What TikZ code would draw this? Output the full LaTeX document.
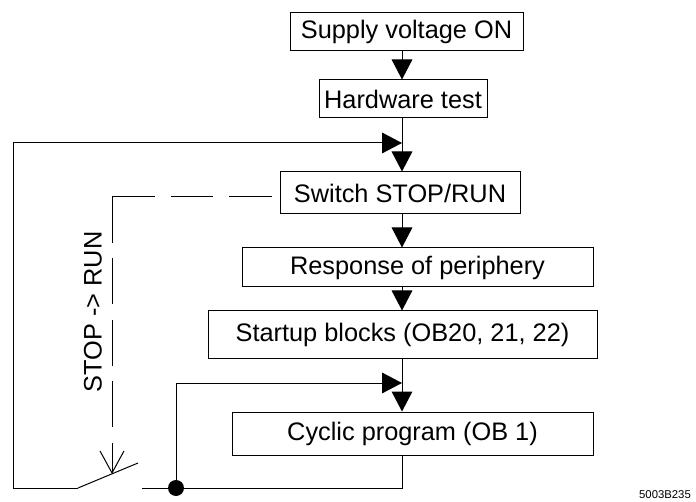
\documentclass[tikz,border=0pt]{standalone}
\usepackage{fontspec}
\setmainfont{Liberation Sans}
\usepackage{tikz}
\usetikzlibrary{arrows.meta}

\tikzset{
  box/.style={draw, line width=0.75pt, inner sep=0pt, font=\fontsize{19}{22}\selectfont},
  flow/.style={line width=0.75pt, -{Triangle[length=15pt,width=15.5pt]}},
  wire/.style={line width=0.75pt},
  dot/.style={circle, fill, inner sep=0pt, minimum size=12pt}
}

\begin{document}
\begin{tikzpicture}[x=0.75pt,y=0.75pt,yscale=-1,xscale=1]
        \useasboundingbox (0,0) rectangle (696,502);
        \coordinate (ax) at (402,0);

        % boxes
        \node[box, minimum width=174.75pt, minimum height=28.5pt] (supply) at (406.5,32) {Supply voltage ON};
        \node[box, minimum width=126pt, minimum height=28.5pt] (hw) at (403,99) {Hardware test};
        \node[box, minimum width=180pt, minimum height=31.5pt] (sw) at (400,193) {Switch STOP/RUN};
        \node[box, minimum width=263.25pt, minimum height=29.25pt] (resp) at (417.5,267.5) {Response of periphery};
        \node[box, minimum width=291.75pt, minimum height=35.25pt] (start) at (402.5,334.5) {Startup blocks (OB20, 21, 22)};
        \node[box, minimum width=270.75pt, minimum height=32.25pt] (cyc) at (412.5,433.5) {Cyclic program (OB 1)};

        % main flow
        \draw[flow] (supply.south -| ax) -- (hw.north -| ax);
        \draw[flow] (hw.south -| ax) -- (sw.north -| ax);
        \draw[flow] (sw.south -| ax) -- (resp.north -| ax);
        \draw[flow] (resp.south -| ax) -- (start.north -| ax);
        \draw[flow] (start.south -| ax) -- (cyc.north -| ax);

        % switch
        \coordinate (lvL) at (78,488);
        \coordinate (lvR) at (138,463);
        \coordinate (ct) at (142,488);
        \coordinate (merge1) at (402,143);
        \coordinate (merge2) at (402,383);
        \node[dot] (jn) at (176,488) {};
        \draw[wire] (lvL) -- (lvR);
        \draw[flow] (lvL) -- (13,488) -- (13,143) -- (merge1);
        \draw[wire] (ct) -- (ct -| ax) -- (cyc.south -| ax);
        \draw[flow] (jn.center) |- (merge2);

        % STOP -> RUN
        \coordinate (corner) at (112,197);
        \draw[wire, dash pattern=on 32pt off 12pt] (corner) -- (corner -| sw.west);
        \draw[wire, dash pattern=on 34.5pt off 11.6pt, -{Straight Barb[length=16.5pt,width=18pt]}] (corner) -- (112,474);
        \node[rotate=90, font=\fontsize{19}{22}\selectfont] (mode) at (93,312) {STOP -> RUN};

        \node[font=\fontsize{8.5}{10}\selectfont] (code) at (665,495) {5003B235};
    \end{tikzpicture}
\end{document}
